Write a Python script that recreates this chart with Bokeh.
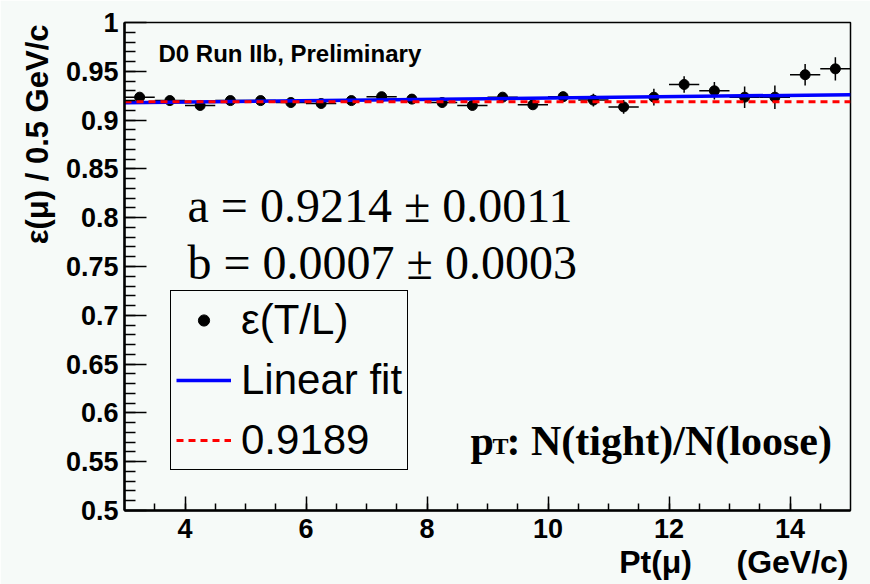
from bokeh.plotting import figure
from bokeh.models import (Range1d, FixedTicker, Label, Legend, LegendItem, ColumnDataSource, Title)
from bokeh.embed import file_html
from bokeh.resources import INLINE

# ---------------- data ----------------
pt_centers = [3.25, 3.75, 4.25, 4.75, 5.25, 5.75, 6.25, 6.75, 7.25, 7.75, 8.25, 8.75,
              9.25, 9.75, 10.25, 10.75, 11.25, 11.75, 12.25, 12.75, 13.25, 13.75, 14.25, 14.75]
eff = [0.9235, 0.9200, 0.9150, 0.9200, 0.9200, 0.9180, 0.9170, 0.9200, 0.9240, 0.9215, 0.9180, 0.9150,
       0.9235, 0.9157, 0.9240, 0.9205, 0.9135, 0.9235, 0.9365, 0.9300, 0.9235, 0.9235, 0.9465, 0.9525]
eff_err = [0.002, 0.002, 0.002, 0.002, 0.002, 0.002, 0.0025, 0.0025, 0.003, 0.003, 0.003, 0.0035,
           0.004, 0.0045, 0.005, 0.0065, 0.007, 0.0085, 0.0085, 0.009, 0.011, 0.012, 0.011, 0.012]
bin_half_width = 0.25

fit_x = [3.0, 15.0]
fit_y = [0.9177, 0.9261]
const_value = 0.9189

x_ticks = [4, 6, 8, 10, 12, 14]
x_tick_labels = ["4", "6", "8", "10", "12", "14"]
y_ticks = [0.5, 0.55, 0.6, 0.65, 0.7, 0.75, 0.8, 0.85, 0.9, 0.95, 1.0]
y_tick_labels = ["0.5", "0.55", "0.6", "0.65", "0.7", "0.75", "0.8", "0.85", "0.9", "0.95", "1"]

BG = "#f6faf8"
SANS = "Liberation Sans"
SERIF = "Liberation Serif"
NB = "\u00a0"

src = ColumnDataSource(dict(
    x=pt_centers, y=eff,
    xl=[x - bin_half_width for x in pt_centers], xr=[x + bin_half_width for x in pt_centers],
    yl=[y - e for y, e in zip(eff, eff_err)], yh=[y + e for y, e in zip(eff, eff_err)],
))

p = figure(width=870, height=584, x_range=Range1d(3, 15), y_range=Range1d(0.5, 1.0),
           output_backend="svg", toolbar_location=None,
           min_border_left=124, min_border_right=20, min_border_top=22, min_border_bottom=74)
p.background_fill_color = BG
p.border_fill_color = BG
p.outline_line_color = "black"
p.outline_line_width = 1.5
p.grid.visible = False

# axes
x_minor = [3 + 0.5 * i for i in range(1, 24)]
y_minor = [round(0.5 + 0.01 * i, 2) for i in range(1, 50)]
p.xaxis.ticker = FixedTicker(ticks=x_ticks, minor_ticks=x_minor)
p.yaxis.ticker = FixedTicker(ticks=y_ticks, minor_ticks=y_minor)
p.xaxis.major_label_overrides = {t: l for t, l in zip(x_ticks, x_tick_labels)}
p.yaxis.major_label_overrides = {t: l for t, l in zip(y_ticks, y_tick_labels)}
for ax, mj, mn in ((p.xaxis, 14, 7), (p.yaxis, 22, 11)):
    ax.axis_line_width = 2.5
    ax.axis_line_color = "black"
    ax.major_tick_in = mj
    ax.major_tick_out = 0
    ax.minor_tick_in = mn
    ax.minor_tick_out = 0
    ax.major_tick_line_width = 1.5
    ax.minor_tick_line_width = 1.5
    ax.major_tick_line_color = "black"
    ax.minor_tick_line_color = "black"
    ax.major_label_text_font = SANS
    ax.major_label_text_font_style = "bold"
    ax.major_label_text_font_size = "27px"
    ax.major_label_text_color = "black"
p.xaxis.major_label_standoff = 8
p.yaxis.major_label_standoff = 6

# data points with error bars
p.segment(x0="xl", y0="y", x1="xr", y1="y", source=src, line_color="black", line_width=1.5)
p.segment(x0="x", y0="yl", x1="x", y1="yh", source=src, line_color="black", line_width=1.5)
pts = p.scatter("x", "y", source=src, size=10, color="black", marker="circle")

fit = p.line(fit_x, fit_y, line_color="#0000ff", line_width=3.5)
const = p.line(fit_x, [const_value, const_value], line_color="#ff0000", line_width=3, line_dash="7 5")

legend = Legend(items=[
    LegendItem(label="ε(T/L)", renderers=[pts]),
    LegendItem(label="Linear fit", renderers=[fit]),
    LegendItem(label=f"{const_value}", renderers=[const]),
], location=(46, 40))
legend.label_text_font = SANS
legend.label_text_font_size = "42px"
legend.label_text_color = "black"
legend.glyph_width = 55
legend.glyph_height = 28
legend.label_height = 47
legend.label_standoff = 10
legend.spacing = 12
legend.padding = 5
legend.margin = 0
legend.border_line_color = "black"
legend.border_line_alpha = 1.0
legend.border_line_width = 1.5
legend.background_fill_color = BG
legend.background_fill_alpha = 1.0
p.add_layout(legend)

def lab(text, x, y, size, font=SANS, style="normal", align="left", baseline="alphabetic"):
    p.add_layout(Label(text=text, x=x, y=y, x_units="screen", y_units="screen",
                       text_font=font, text_font_size=size, text_font_style=style,
                       text_align=align, text_baseline=baseline, text_color="black"))

# frame: left=124, bottom=510 (canvas px)
lab("D0 Run IIb, Preliminary", 158 - 124, 510 - 53, "24px", style="bold", baseline="middle")
lab("a = 0.9214 ± 0.0011", 187 - 124, 510 - 205, "48px", font=SERIF)
lab("b = 0.0007 ± 0.0003", 187 - 124, 510 - 262, "48px", font=SERIF)
lab("p", 470 - 124, 510 - 440, "42px", font=SERIF, style="bold")
lab("T", 492 - 124, 510 - 445, "24px", font=SERIF, style="bold")
lab(": N(tight)/N(loose)", 506 - 124, 510 - 440, "42px", font=SERIF, style="bold")

# axis titles
ytitle = Title(text="ε(μ) / 0.5 GeV/c", align="right", text_font=SANS, text_font_size="31px",
               text_font_style="bold", text_color="black", standoff=16, offset=2)
p.add_layout(ytitle, "left")
xtitle = Title(text="Pt(μ)" + NB * 5 + "(GeV/c)", align="right", text_font=SANS, text_font_size="32px",
               text_font_style="bold", text_color="black", standoff=3, offset=2)
p.add_layout(xtitle, "below")

open("out.html", "w").write(file_html(p, INLINE))
